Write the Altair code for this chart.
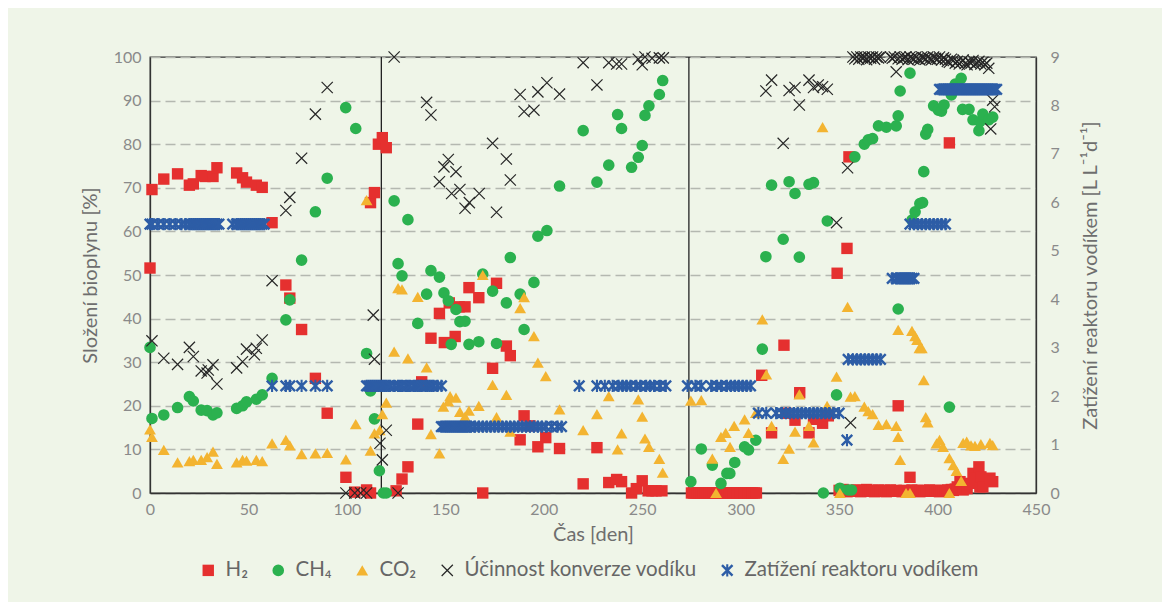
import altair as alt
import pandas as pd

# ---------------- data ----------------
series_names = ["H₂", "CH₄", "CO₂", "Účinnost konverze vodíku", "Zatížení reaktoru vodíkem"]
series_colors = ["#e5302f", "#2bb14f", "#f3b431", "#262626", "#2d5da6"]

h2_day = [0, 1, 7, 14, 20, 22, 26, 28, 32, 34, 44, 47, 49, 54, 57, 62, 69, 71, 77, 84, 90, 99.5, 104, 110,
          112, 112, 114, 116, 118, 120, 125, 128, 131, 136, 138, 142.7, 147, 149.5, 152, 155, 157, 160, 162,
          167, 169, 174, 176, 181, 183, 188, 190, 193, 197, 201, 208, 220, 227, 233, 237, 239.5, 244.6, 247,
          250, 253, 255, 257, 260,
          275, 276, 277, 278, 279, 280, 281, 282, 283, 284, 285, 286, 287, 288, 289, 290, 291, 292, 293, 294,
          295, 296, 297, 298, 299, 300, 301, 302, 303, 304, 305, 306, 307, 308,
          310.7, 315.7, 322, 323, 327.6, 330, 334.7, 337, 341.6, 344.5, 349, 354, 355, 380, 386, 406,
          350, 351, 352, 353, 354, 356, 357, 358, 359, 360, 361, 362, 363, 364, 365, 366, 367, 368, 369, 370,
          371, 372, 373, 374, 375, 376, 377, 378, 379, 381, 382, 383, 384, 385, 387, 388, 389, 390, 391, 392,
          393, 394, 395, 396, 397, 398, 399, 400, 401, 402, 403, 404, 405, 407, 408, 409,
          410, 411.4, 413, 415, 416.5, 418, 419, 421, 421.5, 422, 423, 426.6, 428]
h2_val = [51.6, 69.6, 72.0, 73.2, 70.6, 70.9, 72.8, 72.6, 72.6, 74.6, 73.4, 72.3, 71.3, 70.6, 70.1, 62.0, 47.7,
          44.7, 37.5, 26.3, 18.3, 3.6, 0.2, 0.7,
          66.6, 0.0, 68.9, 80.0, 81.5, 79.2, 0.5, 3.2, 6.0, 15.8, 25.5, 35.5, 41.2, 34.5, 43.6, 35.9, 42.7, 42.7, 47.1,
          44.8, 0.0, 28.6, 48.1, 33.7, 31.5, 12.2, 17.7, 15.4, 10.6, 12.7, 10.2, 2.1, 10.4, 2.4, 3.1, 2.6, 0.0, 1.0,
          2.8, 0.5, 0.5, 0.5, 0.5,
          0.0, 0.0, 0.0, 0.0, 0.0, 0.0, 0.0, 0.0, 0.0, 0.0, 0.0, 0.0, 0.0, 0.0, 0.0, 0.0, 0.0, 0.0, 0.0, 0.0,
          0.0, 0.0, 0.0, 0.0, 0.0, 0.0, 0.0, 0.0, 0.0, 0.0, 0.0, 0.0, 0.0, 0.0,
          27.0, 13.8, 33.9, 18.3, 16.7, 23.0, 13.8, 16.9, 16.0, 17.7, 50.4, 56.1, 77.1, 20.0, 3.6, 80.3,
          0.6, 0.4, 0.8, 0.5, 0.3, 0.6, 0.5, 0.4, 0.7, 0.5, 0.3, 0.6, 0.5, 0.8, 0.4, 0.5, 0.6, 0.3, 0.5, 0.7,
          0.4, 0.5, 0.6, 0.3, 0.5, 0.7, 0.4, 0.5, 0.6, 0.5, 0.3, 0.6, 0.4, 0.5, 0.7, 0.5, 0.4, 0.6, 0.3, 0.5,
          0.6, 0.4, 0.5, 0.7, 0.5, 0.4, 0.6, 0.5, 0.3, 0.6, 0.5, 0.4, 0.7, 0.8, 0.6, 0.9,
          1.4, 2.6, 0.7, 1.0, 2.2, 4.5, 3.4, 6.0, 1.4, 3.7, 1.4, 3.4, 2.6]

ch4_day = [0, 1, 7, 14, 20, 22, 26, 29, 32, 34, 44, 47, 49, 54, 57, 62, 69, 71, 77, 84, 90, 99.4, 104.5,
           110, 112, 114, 116.5, 118.5, 120, 124, 126, 128, 131, 136, 140.5, 142.7, 147, 149.3, 151.5, 153,
           155.4, 157.4, 160, 162, 167, 169, 174, 176, 181, 183, 188, 190, 195, 197, 201.6, 208, 220, 227, 233,
           237.5, 239.5, 244.6, 248, 250, 251.4, 253.4, 258.7, 260.4,
           274.7, 280, 285.6, 290, 293, 294.5, 297, 302, 304, 307.7, 311, 312.8, 315.7, 321.6, 324.6, 327.6,
           329.8, 334.7, 337, 342, 344, 348.7, 350.4, 354.6, 356.3, 358, 362.8, 364.8, 367, 370, 374, 379, 380,
           380, 381, 386, 387, 388.6, 391, 392.4, 393, 394, 395, 398, 400.4, 402, 403.3, 406, 407, 409, 412,
           412.7, 416, 418, 421, 421.5, 423, 426, 428]
ch4_val = [33.4, 17.1, 17.9, 19.6, 22.1, 21.1, 19.0, 18.9, 17.9, 18.4, 19.4, 20.0, 20.9, 21.5, 22.5, 26.3, 39.7,
           44.3, 53.4, 64.5, 72.2, 88.4, 83.6,
           32.0, 23.4, 17.0, 5.1, 0.0, 0.0, 67.0, 52.6, 49.8, 62.7, 38.9, 45.6, 51.0, 49.5, 45.9, 44.1, 34.1,
           42.1, 39.3, 39.4, 34.1, 34.7, 50.2, 46.3, 34.3, 43.6, 54.0, 45.6, 37.5, 48.3, 58.9, 60.2, 70.4, 83.1,
           71.3, 75.2, 86.8, 83.6, 74.7, 77.0, 79.7, 86.6, 88.8, 91.4, 94.6,
           2.6, 10.1, 6.4, 2.2, 4.5, 4.5, 7.0, 10.6, 9.9, 12.1, 33.0, 54.2, 70.6, 58.2, 71.4, 68.7,
           54.1, 70.8, 71.2, 0.0, 62.4, 22.5, 1.1, 0.7, 0.7, 77.1, 80.0, 81.0, 81.3, 84.2, 83.9, 84.2, 86.5,
           42.2, 92.2, 96.3, 62.6, 64.5, 66.4, 66.6, 73.7, 82.3, 83.4, 88.8, 87.8, 87.6, 89.0, 19.7, 91.3, 93.8,
           95.1, 88.0, 88.0, 85.6, 83.1, 85.2, 86.9, 85.6, 86.2]

co2_day = [0, 1, 7, 14, 20, 22, 26, 29, 32, 34, 44, 47, 49, 54, 57, 62, 69, 71, 77, 84, 90, 99.5, 104.5, 110,
           112, 114, 116.7, 118, 120, 124, 126, 128, 131, 136, 140.5, 142.7, 147, 149, 151.5, 152.4, 155.4,
           157.4, 160, 162, 167, 169, 174, 176, 181, 183, 188, 190, 195, 197, 201, 208, 220, 227, 233, 237.5,
           239.5, 248, 250, 251.4, 253.4, 258.7, 260.4,
           274.7, 280, 285.6, 287.5, 290, 292.4, 294.6, 296.7, 302, 304, 307.7, 311, 313, 315.7, 321.6, 324.6,
           327.6, 329.8, 334.7, 337, 341.6, 343.9, 348.7, 350.4, 354.3, 355.8, 358, 362.8, 364.8, 367, 370, 374,
           379, 380, 380, 381, 384, 386, 387, 388.6, 389.6, 390.8, 392, 393, 394, 395, 399.5, 401, 402.8, 406,
           406, 408, 409.6, 412, 413, 414.8, 417, 419, 422, 426.6, 428]
co2_val = [14.6, 12.9, 9.9, 7.0, 7.3, 7.6, 7.6, 8.2, 9.5, 6.7, 7.0, 7.6, 7.4, 7.6, 7.3, 11.4, 12.2, 10.9, 8.9, 9.1,
           9.2, 7.7, 15.8, 67.2,
           9.7, 13.7, 14.4, 18.1, 20.7, 32.4, 47.0, 46.7, 30.9, 45.0, 28.8, 13.5, 9.1, 19.8, 21.0, 22.2, 21.9,
           18.6, 17.5, 18.9, 20.0, 50.0, 24.8, 17.4, 22.5, 14.1, 42.4, 44.9, 36.0, 29.9, 26.8, 19.2, 14.4, 18.1,
           22.2, 10.0, 13.7, 21.5, 17.5, 12.5, 10.6, 7.8, 4.7,
           21.2, 21.3, 7.9, 0.0, 12.9, 13.8, 10.6, 15.4, 16.9, 13.8, 18.4, 39.8, 27.2, 15.4, 7.8, 10.2,
           14.1, 22.6, 15.4, 11.6, 83.9, 20.0, 26.7, 0.0, 42.7, 22.1, 22.2, 19.8, 18.8, 18.1, 15.6, 15.8,
           15.4, 12.9, 37.4, 7.6, 0.0, 0.0, 37.2, 36.0, 35.1, 33.2, 33.2, 25.9, 17.4, 16.2, 11.4, 12.2, 10.6, 0.0,
           8.0, 6.4, 5.1, 2.8, 11.5, 11.8, 10.9, 10.8, 11.2, 11.5, 11.0]

eff_day = [1, 7, 14, 20, 22, 26, 29, 29.6, 32, 34, 44, 47, 49, 53, 54, 57, 62, 69, 71, 77, 84, 90, 99.5, 104,
           107, 110, 113.4, 114, 116.8, 118, 120, 124, 126, 140.5, 142.7, 147, 149.3, 151.5, 153.2, 155.4,
           157.4, 160, 162.2, 167.2, 174, 176, 181, 183, 188, 190, 195, 197, 201.6, 208, 220, 227, 233, 237,
           239.5, 248, 250, 251.4, 255, 258.7, 260.7,
           312.8, 315.7, 321.6, 324.6, 327.6, 329.8, 334.7, 337, 339.4, 341.6, 344, 348.7, 354.3, 355.8,
           357, 358, 359, 360, 361, 362, 363, 364, 365, 366, 367, 368, 369, 370, 371, 379,
           376, 377, 378, 380, 381, 382, 383, 384, 385, 386, 387, 388, 389, 390, 391, 392, 393, 394, 395, 396,
           397, 398, 399, 400, 401, 402, 403, 404, 405, 406, 407, 408, 409, 410, 411, 412, 413, 414, 415, 416,
           417, 418, 419, 420, 421, 422, 423, 424, 425, 426, 427, 428, 429,
           430, 431, 432.5, 433]
eff_val = [34.9, 30.9, 29.5, 33.4, 31.3, 28.0, 27.5, 28.2, 29.4, 25.0, 28.7, 30.1, 33.0, 31.7, 33.2, 35.1, 48.7,
           64.8, 67.8, 76.8, 86.9, 93.0, 0.0, 0.0,
           0.0, 0.0, 40.8, 30.7, 11.4, 7.6, 14.4, 100.0, 0.0, 89.6, 86.7, 71.4, 74.8, 76.5, 68.7, 73.7,
           69.6, 65.3, 66.6, 68.7, 80.2, 64.4, 76.6, 71.8, 91.4, 87.5, 87.8, 92.0, 94.1, 91.5, 98.7, 93.6, 98.7,
           98.4, 98.4, 99.5, 98.2, 100.0, 99.7, 99.8, 99.8,
           92.2, 94.7, 80.2, 92.3, 93.0, 89.0, 94.7, 93.0, 93.6, 93.2, 92.6, 62.0, 74.6, 16.1,
           100.0, 99.6, 100.0, 99.5, 100.0, 99.8, 100.0, 99.4, 100.0, 99.7, 100.0, 99.5, 100.0, 99.8, 100.0, 96.6,
           100.0, 99.7, 100.0, 99.6, 100.0, 99.5, 99.8, 100.0, 99.4, 100.0, 99.7, 99.5, 100.0, 99.6, 99.3, 100.0,
           99.8, 99.5, 100.0, 99.6, 99.4, 100.0, 99.7, 99.5, 100.0, 99.3, 99.8, 99.5, 99.0, 98.8, 99.5, 99.2,
           98.6, 99.0, 98.4, 98.8, 99.3, 98.5, 98.2, 98.9, 98.6, 99.2, 98.3, 98.7, 99.0, 98.4, 98.8, 98.2, 98.6,
           97.4, 83.5, 90.1, 88.6]

# hydrogen loading [L L-1 d-1]: one list of days per operating level
load_levels = [5.55, 5.55, 2.21, 2.21, 1.37, 2.21, 2.21, 1.65, 1.09, 2.76, 4.43, 5.55, 8.33]
load_days = [
    [0, 1, 4, 7, 10, 13, 16, 18, 20, 21, 22, 23, 24, 25, 26, 27, 28, 29, 30, 31, 32, 33, 34, 35],
    [42, 44, 45, 46, 47, 48, 49, 50, 51, 52, 53, 54, 55, 56, 57, 58],
    [62, 69, 71, 77, 84, 90],
    [110, 111, 112, 113, 114, 115, 116, 117, 118, 119, 120, 121, 122, 124, 126, 127, 128, 130, 131, 132,
     134, 135, 136, 137, 138, 140, 141, 142, 143, 144, 146, 148],
    [148, 149, 150, 151, 152, 153, 154, 155, 156, 157, 158, 159, 160, 161, 162, 163, 165, 167, 169, 171,
     173, 175, 177, 179, 181, 183, 185, 187, 189, 191, 193, 195, 197, 199, 201, 204, 207, 209],
    [218, 227, 231, 235, 238, 240, 242, 244, 247, 249, 252, 254, 256, 259, 262],
    [273, 277, 280, 285, 288, 290, 293, 295, 297, 299, 301, 303, 305],
    [309, 313, 318, 321, 323, 325, 327, 329, 331, 333, 335, 337, 339, 341, 343, 345, 347, 350],
    [354],
    [354.6, 357, 359, 361, 363, 365, 367, 369, 371],
    [377, 379, 380, 381, 382, 383, 384, 385, 386, 387, 388],
    [386, 388, 390, 392, 394, 396, 398, 400, 402, 404],
    [401, 402, 403, 404, 405, 406, 407, 408, 409, 410, 411, 412, 413, 414, 415, 416, 417, 418, 419, 420,
     421, 422, 423, 424, 425, 426, 427, 428, 429, 430],
]

phase_bounds = [117.5, 273.7]
x_ticks = [0, 50, 100, 150, 200, 250, 300, 350, 400, 450]
y_ticks = [0, 10, 20, 30, 40, 50, 60, 70, 80, 90, 100]
y2_ticks = [0, 1, 2, 3, 4, 5, 6, 7, 8, 9]

# ---------------- tables ----------------
rows = []
for name, days, vals in [(series_names[0], h2_day, h2_val), (series_names[1], ch4_day, ch4_val),
                         (series_names[2], co2_day, co2_val), (series_names[3], eff_day, eff_val)]:
    for d, v in zip(days, vals):
        rows.append({"day": d, "value": v, "series": name})
df_left = pd.DataFrame(rows)

lrows = []
for lvl, days in zip(load_levels, load_days):
    for d in days:
        lrows.append({"day": d, "load": lvl, "series": series_names[4]})
df_right = pd.DataFrame(lrows)

df_phase = pd.DataFrame({"day": phase_bounds})

# ---------------- styling ----------------
FONT = "Lato"
X_PATH = "M-1,-0.86L-0.86,-1L1,0.86L0.86,1Z M1,-0.86L-0.86,1L-1,0.86L0.86,-1Z"
AST_PATH = ("M-1,-0.72L-0.72,-1L1,0.72L0.72,1Z M1,-0.72L-0.72,1L-1,0.72L0.72,-1Z "
            "M-0.17,-1L0.17,-1L0.17,1L-0.17,1Z")

color_scale = alt.Scale(domain=series_names, range=series_colors)
shape_scale = alt.Scale(domain=series_names, range=["square", "circle", "triangle-up", X_PATH, AST_PATH])
size_scale = alt.Scale(domain=series_names, range=[130, 150, 140, 170, 140])

legend = alt.Legend(title=None, orient="none", legendX=48, legendY=503, direction="horizontal",
                    symbolSize=150, symbolStrokeWidth=0, labelFont=FONT, labelFontSize=20.5,
                    labelColor="#666666", columnPadding=20, labelOffset=7, labelLimit=400)

x_enc = alt.X("day:Q", scale=alt.Scale(domain=[0, 450], nice=False),
              axis=alt.Axis(values=x_ticks, title="Čas [den]", grid=False, ticks=False, labelFlush=False,
                            labelPadding=8, titlePadding=7))

common = dict(
    x=x_enc,
    color=alt.Color("series:N", scale=color_scale, legend=legend),
    shape=alt.Shape("series:N", scale=shape_scale, legend=legend),
    size=alt.Size("series:N", scale=size_scale, legend=None),
)

rules = alt.Chart(df_phase).mark_rule(color="#222222", strokeWidth=1.3).encode(
    x=alt.X("day:Q", scale=alt.Scale(domain=[0, 450], nice=False))
)

left = alt.Chart(df_left).mark_point(filled=True, opacity=1).encode(
    y=alt.Y("value:Q", scale=alt.Scale(domain=[0, 100], nice=False),
            axis=alt.Axis(values=y_ticks, title="Složení bioplynu [%]", grid=True,
                          gridDash=[10, 5], gridColor="#b4b8b0", gridWidth=1.4, ticks=False,
                          labelPadding=9, titlePadding=13)),
    **common,
)

right = alt.Chart(df_right).mark_point(filled=True, opacity=1).encode(
    y=alt.Y("load:Q", scale=alt.Scale(domain=[0, 9], nice=False),
            axis=alt.Axis(orient="right", values=y2_ticks, title="Zatížení reaktoru vodíkem [L L⁻¹d⁻¹]",
                          grid=False, ticks=False, titleAngle=270, labelPadding=14, titlePadding=41)),
    **common,
)

chart = alt.layer(rules, left, right).resolve_scale(y="independent").properties(
    width=886, height=436,
    autosize=alt.AutoSizeParams(type="none"),
    padding={"left": 142, "top": 49, "right": 126, "bottom": 109},
    background="#eff5e8",
).configure_view(
    stroke="#333333", strokeWidth=1.3, fill="#eff5e8"
).configure_axis(
    domainColor="#333333", domainWidth=1.3,
    labelFont=FONT, labelFontSize=16, labelColor="#8a8a8a",
    titleFont=FONT, titleFontSize=20, titleFontWeight="normal", titleColor="#6e6e6e",
)

chart.save("out.html", embed_options={"renderer": "svg", "actions": False})
